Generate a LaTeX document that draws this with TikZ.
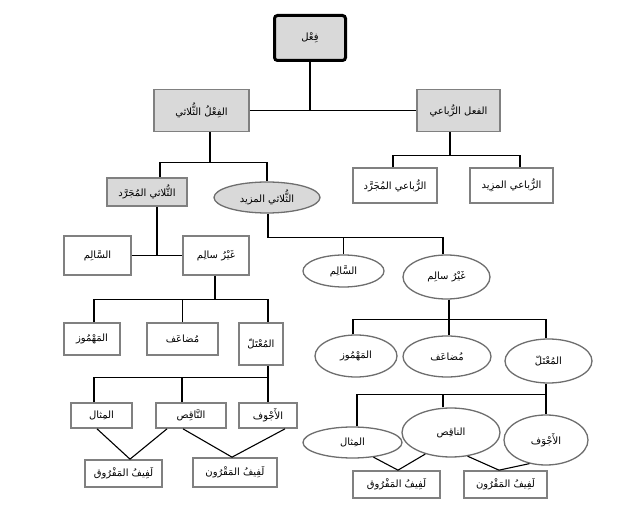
\documentclass[tikz,border=0pt]{standalone}
\usepackage{fontspec}
\newfontfamily\arabicfont[Script=Arabic]{DejaVu Sans}
\TeXXeTstate=1
\usetikzlibrary{shapes.geometric,calc}
\newcommand{\artxt}[1]{{\arabicfont\fontsize{10}{12}\selectfont\beginR #1\endR}}
\definecolor{fillgray}{RGB}{217,217,217}
\definecolor{boxgray}{RGB}{128,128,128}
\definecolor{ellgray}{RGB}{110,110,110}
\begin{document}
\begin{tikzpicture}[x=1pt,y=-1pt,
  conn/.style={line width=1.1pt, black},
  box/.style={draw=boxgray, line width=1.7pt, fill=white, rectangle, inner sep=0pt},
  gbox/.style={box, fill=fillgray},
  ell/.style={draw=ellgray, line width=1.3pt, fill=white, ellipse, inner sep=0pt},
  topbox/.style={draw=black, line width=3pt, rounded corners=3pt, fill=fillgray, rectangle, inner sep=0pt}]
\useasboundingbox (0,0) rectangle (640,526);
% top
\node[topbox, minimum width=71, minimum height=45] (f) at (310,38) {\artxt{فِعْل}};
\node[gbox, minimum width=95, minimum height=42] (thul) at (201.5,110.5) {\artxt{الفِعْلُ الثُّلاثي}};
\node[gbox, minimum width=83, minimum height=42] (rub) at (458.5,110.5) {\artxt{الفعل الرُّباعي}};
% level 3
\node[gbox, minimum width=80, minimum height=28] (mj) at (147,192) {\artxt{الثُّلاثي المُجَرَّد}};
\node[ell, fill=fillgray, minimum width=106, minimum height=31] (mz) at (267,197.5) {\artxt{الثُّلاثي المزيد}};
\node[box, minimum width=84, minimum height=35] (rmj) at (395,185.5) {\artxt{الرُّباعي المُجَرَّد}};
\node[box, minimum width=83, minimum height=35] (rmz) at (511.5,185.5) {\artxt{الرُّباعي المزِيد}};
% left subtree
\node[box, minimum width=67, minimum height=39] (ls) at (97.5,255.5) {\artxt{السَّالِم}};
\node[box, minimum width=66, minimum height=39] (lg) at (216,255.5) {\artxt{غَيْرُ سالِم}};
\node[box, minimum width=56, minimum height=32] (lhm) at (92,339) {\artxt{المَهْمُوز}};
\node[box, minimum width=71, minimum height=32] (lmd) at (182.5,339) {\artxt{مُضاعَف}};
\node[box, minimum width=44, minimum height=42] (lmt) at (261,344) {\artxt{المُعْتَلّ}};
\node[box, minimum width=61, minimum height=25] (lmth) at (101.5,415.5) {\artxt{المِثال}};
\node[box, minimum width=70, minimum height=25] (lnq) at (191,415.5) {\artxt{النَّاقِص}};
\node[box, minimum width=58, minimum height=25] (laj) at (268,415.5) {\artxt{الأَجْوَف}};
\node[box, minimum width=77, minimum height=27] (lmf) at (123.5,473.5) {\artxt{لَفِيفُ المَفْرُوق}};
\node[box, minimum width=84, minimum height=29] (lmq) at (235,472.5) {\artxt{لَفِيفُ المَقْرُون}};
% right subtree
\node[ell, minimum width=81, minimum height=32] (rs) at (343.5,271) {\artxt{السَّالِم}};
\node[ell, minimum width=87, minimum height=44] (rg) at (446.5,277) {\artxt{غَيْرُ سالِم}};
\node[ell, minimum width=82, minimum height=42] (rhm) at (356,356) {\artxt{المَهْمُوز}};
\node[ell, minimum width=88, minimum height=41] (rmd) at (447,356.5) {\artxt{مُضاعَف}};
\node[ell, minimum width=87, minimum height=44] (rmt) at (548.5,361) {\artxt{المُعْتَلّ}};
\node[ell, minimum width=99, minimum height=31] (rmth) at (352.5,442.5) {\artxt{المِثال}};
\node[ell, minimum width=98, minimum height=49] (rnq) at (451,432.5) {\artxt{الناقِص}};
\node[ell, minimum width=84, minimum height=50] (raj) at (546,440) {\artxt{الأَجْوَف}};
\node[box, minimum width=87, minimum height=27] (rmf) at (396.5,484.5) {\artxt{لَفِيفُ المَفْرُوق}};
\node[box, minimum width=83, minimum height=27] (rmq) at (505.5,484.5) {\artxt{لَفِيفُ المَقْرُون}};
% connectors top
\draw[conn] (f.south) -- (f.south |- thul.east);
\draw[conn] (thul.east) -- (rub.west);
\draw[conn] ([xshift=8.5]thul.south) -- ++(0,30) coordinate (j1);
\draw[conn] ([xshift=13]mj.north) |- (j1) -| (mz.north);
\draw[conn] ([xshift=-8.5]rub.south) -- ++(0,23) coordinate (j2);
\draw[conn] ([xshift=-2]rmj.north) |- (j2) -| ([xshift=8.5]rmz.north);
% left subtree connectors
\draw[conn] ([xshift=10]mj.south) |- (ls.east);
\draw[conn] (ls.east) -- (lg.west);
\draw[conn] ([xshift=-1]lg.south) -- ++(0,23.5) coordinate (j3);
\draw[conn] ([xshift=2]lhm.north) |- (j3) -| ([xshift=7]lmt.north);
\draw[conn] (lmd.north) -- (lmd.north |- j3);
\draw[conn] ([xshift=7]lmt.south) -- ++(0,12) coordinate (j4);
\draw[conn] ([xshift=-7.5]lmth.north) |- (j4) -| (laj.north);
\coordinate (lnqt) at ([xshift=-9]lnq.north);
\draw[conn] (lnqt) -- (lnqt |- j4);
\draw[conn] ([xshift=-4.5]lmth.south) -- ([xshift=6.5]lmf.north) -- ([xshift=-24]lnq.south);
\draw[conn] ([xshift=-8]lnq.south) -- ([xshift=-3]lmq.north) -- ([xshift=17]laj.south);
% right subtree connectors
\draw[conn] ([xshift=1]mz.south) -- ++(0,24) coordinate (j5);
\draw[conn] (j5) -| ([xshift=-3.5]rg.north);
\draw[conn] (rs.north) -- (rs.north |- j5);
\draw[conn] ([xshift=2.5]rg.south) -- ++(0,20) coordinate (j6);
\draw[conn] ([xshift=-3]rhm.north) |- (j6) -| ([xshift=-2.5]rmt.north);
\draw[conn] (j6) -- (j6 |- rmd.north);
\draw[conn] ([xshift=-2.5]rmt.south) -- ++(0,11) coordinate (j7);
\draw[conn] ([xshift=4.5]rmth.north) |- (j7) -- (j7 |- raj.north);
\coordinate (rnqt) at ([xshift=-8]rnq.north);
\draw[conn] (rnqt) -- (rnqt |- j7);
\draw[conn] (rmth.-35) -- ([xshift=1.5]rmf.north) -- (rnq.-140);
\draw[conn] (rnq.-55) -- ([xshift=-6.5]rmq.north) -- (raj.-125);
\end{tikzpicture}
\end{document}
